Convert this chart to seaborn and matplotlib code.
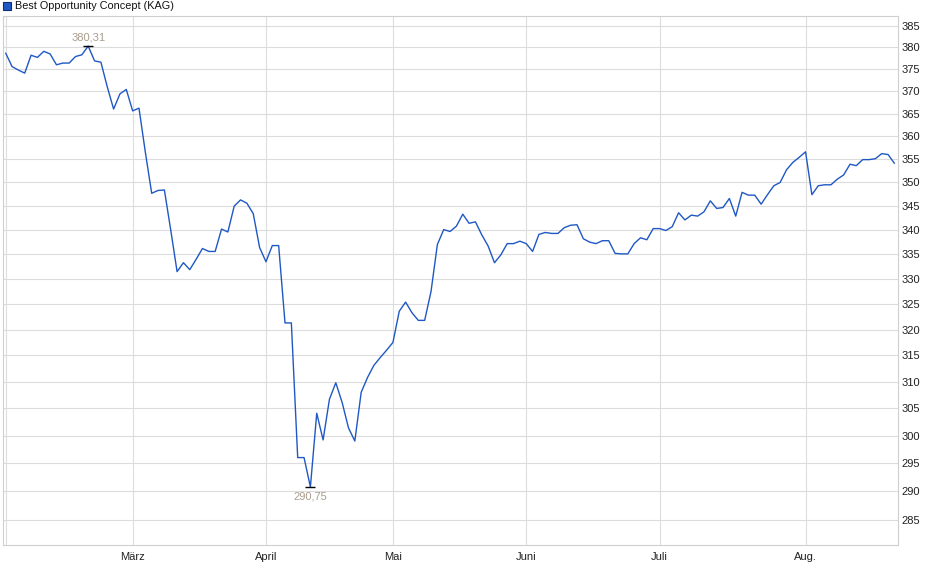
import numpy as np
import pandas as pd
import seaborn as sns
import matplotlib.pyplot as plt
from matplotlib.patches import Rectangle
from matplotlib.ticker import FixedLocator, NullLocator, FuncFormatter

# daily prices (trading days), one list per month
feb = [378.7, 375.6, 374.8, 374.1, 378.2, 377.7, 379.1, 378.5, 376.0, 376.4,
       376.4, 377.9, 378.3, 380.31, 376.9, 376.6, 371.0, 366.0, 369.4, 370.4]
mar = [365.6, 366.2, 356.5, 347.7, 348.3, 348.4, 340.0, 331.5, 333.3, 331.9,
       334.0, 336.2, 335.6, 335.6, 340.2, 339.6, 345.0, 346.3, 345.6, 343.4, 336.4]
apr = [333.5, 336.8, 336.8, 321.3, 321.3, 296.0, 296.0, 290.75, 304.1, 299.2,
       306.7, 309.8, 306.1, 301.4, 299.0, 308.0, 310.8, 313.1, 314.6, 316.0]
may = [317.5, 323.6, 325.4, 323.3, 321.8, 321.8, 327.5, 337.0, 340.1, 339.7,
       340.8, 343.3, 341.4, 341.7, 339.0, 336.7, 333.3, 334.9, 337.2, 337.2, 337.7]
jun = [337.2, 335.6, 339.1, 339.5, 339.3, 339.3, 340.5, 341.0, 341.1, 338.2,
       337.5, 337.2, 337.8, 337.8, 335.2, 335.1, 335.1, 337.2, 338.4, 338.0, 340.3]
jul = [340.3, 339.9, 340.7, 343.6, 342.1, 343.1, 342.9, 343.8, 346.1, 344.5,
       344.7, 346.6, 342.9, 347.9, 347.3, 347.3, 345.4, 347.4, 349.3, 350.0,
       352.7, 354.3, 355.4]
aug = [356.6, 347.4, 349.3, 349.5, 349.5, 350.7, 351.6, 353.9, 353.6, 354.9,
       354.9, 355.1, 356.2, 356.0, 354.1]

months = [feb, mar, apr, may, jun, jul, aug]
month_labels = ["", "März", "April", "Mai", "Juni", "Juli", "Aug."]
y_ticks = list(range(285, 390, 5))
series_name = "Best Opportunity Concept (KAG)"

line_color = "#1f58c4"
grid_color = "#dcdcdc"

kurs = [v for m in months for v in m]
df = pd.DataFrame({"tag": np.arange(len(kurs)), "kurs": kurs})
month_starts = np.cumsum([0] + [len(m) for m in months[:-1]])

sns.set_style("white")
plt.rcParams["font.family"] = ["Liberation Sans", "DejaVu Sans"]

fig = plt.figure(figsize=(9.4, 5.79), dpi=100)
ax = fig.add_axes([0.00287, 0.0582, 0.9527, 0.9142])

sns.lineplot(data=df, x="tag", y="kurs", ax=ax, color=line_color, lw=1.0)

ax.set_yscale("log")
ax.set_ylim(280.6, 387.35)
ax.set_xlim(-0.47, 140.6)

ax.yaxis.set_major_locator(FixedLocator(y_ticks))
ax.yaxis.set_minor_locator(NullLocator())
ax.yaxis.set_major_formatter(FuncFormatter(lambda v, p: f"{v:.0f}"))
ax.yaxis.tick_right()
ax.set_xticks(month_starts)
ax.set_xticklabels(month_labels)
ax.set_xlabel("")
ax.set_ylabel("")

ax.grid(True, color=grid_color, lw=0.8)
for s in ax.spines.values():
    s.set_color("#cfcfcf")
    s.set_linewidth(0.8)
ax.tick_params(axis="y", length=0, pad=2.5, labelsize=8, labelcolor="#222222")
ax.tick_params(axis="x", length=3, width=0.8, color="#cfcfcf", pad=1.5,
               labelsize=8, labelcolor="#222222")

# high / low markers
i_max = int(np.argmax(kurs))
i_min = int(np.argmin(kurs))
for i, dy in [(i_max, 6.2), (i_min, -7.0)]:
    ax.plot(i, kurs[i], marker="_", ms=7, mew=1.0, color="black")
    ax.annotate(f"{kurs[i]:.2f}".replace(".", ","), xy=(i, kurs[i]),
                xytext=(0, dy), textcoords="offset points", ha="center",
                va="center", fontsize=8, color="#a99d8e")

# legend box at top left
fig.patches.append(Rectangle((3 / 940, 1 - 10 / 579), 8 / 940, 8 / 579,
                             transform=fig.transFigure, facecolor=line_color,
                             edgecolor="#0d2f73", lw=0.8))
fig.text(15 / 940, 1 - 6 / 579, series_name, fontsize=7.8, va="center",
         ha="left", color="#111111")

fig.savefig("out.png", dpi=100)
